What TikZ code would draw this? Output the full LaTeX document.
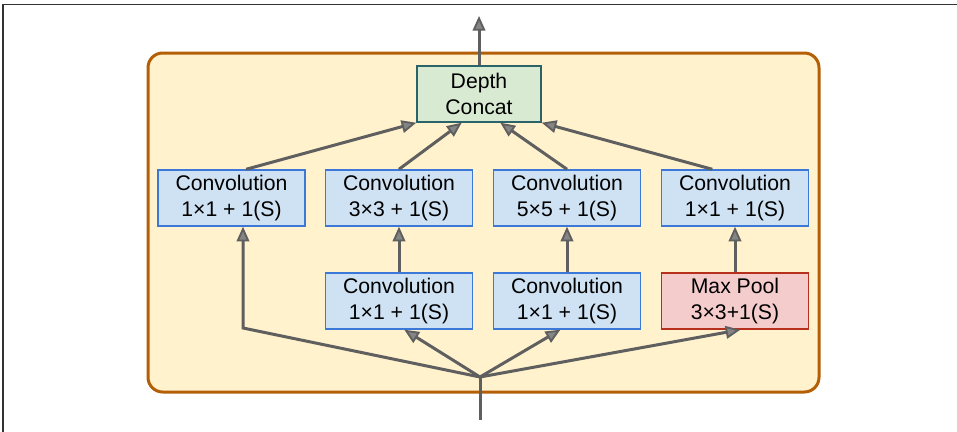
\documentclass[tikz,border=0pt]{standalone}
\usepackage{fontspec}
\setmainfont{Liberation Sans}
\usetikzlibrary{arrows.meta}
\definecolor{modfill}{HTML}{FFF2CC}
\definecolor{moddraw}{HTML}{B45F06}
\definecolor{convfill}{HTML}{CFE2F3}
\definecolor{convdraw}{HTML}{3C78D8}
\definecolor{poolfill}{HTML}{F4CCCC}
\definecolor{pooldraw}{HTML}{B7301E}
\definecolor{catfill}{HTML}{D9EAD3}
\definecolor{catdraw}{HTML}{2B6468}
\definecolor{wire}{HTML}{5F5F5F}
\definecolor{wiretip}{HTML}{858585}
\begin{document}
\begin{tikzpicture}[x=0.75pt, y=-0.75pt,
        layer/.style={draw, line width=1.1pt, align=center, inner sep=0pt,
            minimum width=110.25pt, minimum height=42pt,
            font=\fontsize{15.9}{19.5}\selectfont},
        conv/.style={layer, fill=convfill, draw=convdraw},
        pool/.style={layer, fill=poolfill, draw=pooldraw},
        concat/.style={layer, fill=catfill, draw=catdraw, minimum width=93pt},
        wireline/.style={draw=wire, line width=2.25pt},
        flow/.style={wireline, -{Triangle[length=11pt, width=9.5pt, line width=1.4pt, fill=wiretip]}}]
        \useasboundingbox (0, 0) rectangle (957, 432);
        % Frame of the screenshot
        \draw[line width=1.2pt, black!80] (3, 432) -- (3, 4.5) -- (957, 4.5);
        % Inception module
        \draw[fill=modfill, draw=moddraw, line width=2.25pt, rounded corners=11pt] (148, 53) rectangle (819, 392);
        \node[concat] (cat) at (479, 94) {Depth\\Concat};
        
        % Top row
        \node[conv] (c1) at (231.5, 198) {Convolution\\1×1 + 1(S)};
        \node[conv] (c3) at (399, 198) {Convolution\\3×3 + 1(S)};
        \node[conv] (c5) at (567, 198) {Convolution\\5×5 + 1(S)};
        \node[conv] (cp) at (735, 198) {Convolution\\1×1 + 1(S)};
        
        % Bottom row
        \node[conv] (r3) at (399, 301) {Convolution\\1×1 + 1(S)};
        \node[conv] (r5) at (567, 301) {Convolution\\1×1 + 1(S)};
        \node[pool] (mp) at (735, 301) {Max Pool\\3×3+1(S)};
        
        \coordinate (in) at (480, 420);
        \coordinate (split) at (480, 377);
        \coordinate (bend) at (243, 328);
        \coordinate (out) at (479, 16);
        
        % Input branches
        \draw[wireline] (in) -- (split);
        \draw[flow] (split) -- (bend) -- (bend |- c1.south);
        \draw[flow] (split) -- ([xshift=4pt]r3.south);
        \draw[flow] (split) -- ([xshift=-5pt]r5.south);
        \draw[flow] (split) -- ([xshift=4pt]mp.south);
        \draw[flow] (r3) -- (c3);
        \draw[flow] (r5) -- (c5);
        \draw[flow] (mp) -- (cp);
        
        % Into the concat
        \draw[flow] ([xshift=11pt]c1.north) -- (cat.south west);
        \draw[flow] (c3.north) -- ([xshift=-13pt]cat.south);
        \draw[flow] (c5.north) -- ([xshift=16pt]cat.south);
        \draw[flow] ([xshift=-17pt]cp.north) -- (cat.south east);
        \draw[flow] (cat) -- (out);
    \end{tikzpicture}
\end{document}
